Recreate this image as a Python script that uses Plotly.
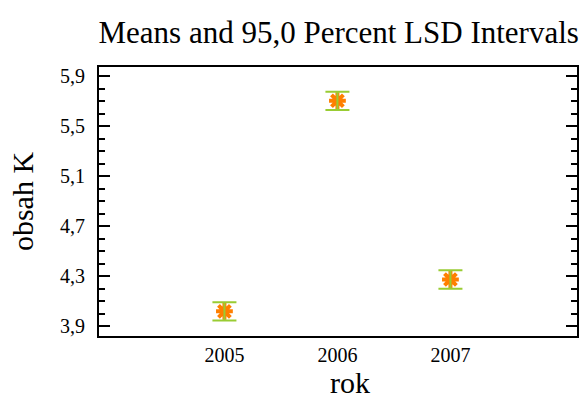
import plotly.graph_objects as go

years = ["2005", "2006", "2007"]
means = [4.017, 5.702, 4.272]
half_lsd = [0.074, 0.073, 0.074]

fig = go.Figure()
fig.add_trace(go.Scatter(
    x=[0, 1, 2], y=means, mode="markers",
    marker=dict(symbol="asterisk-open", size=14, color="#FF7F00",
                line=dict(color="#FF7F00", width=4)),
    showlegend=False,
))
fig.add_trace(go.Scatter(
    x=[0, 1, 2], y=means, mode="markers",
    marker=dict(size=1, color="rgba(0,0,0,0)"),
    error_y=dict(type="data", array=half_lsd, visible=True,
                 color="#99CC33", thickness=2, width=12),
    showlegend=False,
))

font = "Liberation Serif, Times New Roman, serif"
fig.update_layout(
    width=587, height=405,
    margin=dict(l=99, r=8, t=67, b=69),
    paper_bgcolor="white", plot_bgcolor="white",
    separators=", ",
    font=dict(family=font, color="black", size=20),
    title=dict(text="Means and 95,0 Percent LSD Intervals", x=0.577, xanchor="center",
               y=0.92, yanchor="middle", font=dict(family=font, size=31)),
    xaxis=dict(range=[-1.11, 3.12], tickmode="array", tickvals=[0, 1, 2], ticktext=years,
               showgrid=False, zeroline=False, showline=True, linecolor="black", linewidth=2,
               mirror=True, ticks="", tickfont=dict(size=20)),
    yaxis=dict(range=[3.82, 5.972], tickmode="array",
               tickvals=[3.9, 4.3, 4.7, 5.1, 5.5, 5.9], tickformat=".1f",
               showgrid=False, zeroline=False, showline=True, linecolor="black", linewidth=2,
               mirror="allticks", ticks="inside", ticklen=11, tickwidth=2, tickcolor="black",
               minor=dict(ticks="inside", ticklen=6, tickwidth=2, tickcolor="black", dtick=0.1, tick0=3.9),
               tickfont=dict(size=20), ticklabelstandoff=8,
               title=dict(text="obsah K", font=dict(size=30), standoff=18)),
    annotations=[dict(text="rok", xref="paper", yref="paper", x=0.525, y=-0.172,
                      xanchor="center", yanchor="middle", showarrow=False,
                      font=dict(family=font, size=30))],
)
fig.write_html("out.html")
